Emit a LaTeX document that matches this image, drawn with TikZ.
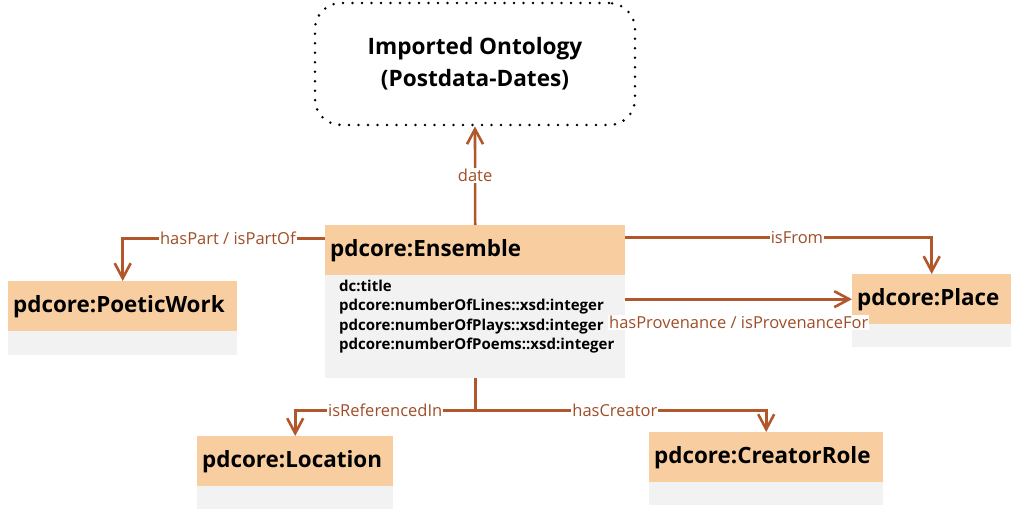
\documentclass[tikz,border=0pt]{standalone}
\usepackage{fontspec}
\setmainfont{Open Sans}
\usetikzlibrary{arrows.meta,positioning}
\definecolor{hdr}{RGB}{248,206,160}
\definecolor{bodyc}{RGB}{242,242,242}
\definecolor{conncol}{RGB}{178,86,44}
\definecolor{lblcol}{RGB}{160,78,40}
\tikzset{
  clshead/.style={fill=hdr, draw=none, anchor=north west, minimum height=50pt,
    inner xsep=5pt, inner ysep=0pt, align=left, font=\bfseries\fontsize{22.4}{26}\selectfont},
  clsbody/.style={fill=bodyc, draw=none, anchor=north west, inner sep=0pt},
  conn/.style={draw=conncol, line width=2.6pt,
    -{Straight Barb[length=15pt,width=16pt,line width=2.6pt]}},
  connplain/.style={draw=conncol, line width=2.6pt},
  lbl/.style={fill=white, text=lblcol, inner xsep=1pt, inner ysep=1pt,
    font=\fontsize{16.5}{19}\selectfont},
  imported/.style={draw=black, line width=2.8pt, line cap=round,
    dash pattern=on 0pt off 9.5pt, rounded corners=26pt, align=center,
    minimum width=320pt, minimum height=122pt,
    font=\bfseries\fontsize{22.6}{32}\selectfont}
}
\begin{document}
\begin{tikzpicture}[x=1pt,y=-1pt]
\useasboundingbox[fill=white] (0,0) rectangle (1013,511);

% imported ontology
\node[imported] (imp) at (475,64) {Imported Ontology\\(Postdata-Dates)};

% Ensemble
\node[clsbody, minimum width=300pt, minimum height=103pt] (ensb) at (325,275) {};
\node[clshead, text width=290pt] (ens) at (325,225) {pdcore:Ensemble};
\node[anchor=north west, inner sep=0pt, align=left,
  font=\bfseries\fontsize{15}{19.3}\selectfont] (ensattr) at (339,280)
  {dc:title\\pdcore:numberOfLines::xsd:integer\\pdcore:numberOfPlays::xsd:integer\\pdcore:numberOfPoems::xsd:integer};

% PoeticWork
\node[clsbody, minimum width=229pt, minimum height=24pt] (pwb) at (8,331) {};
\node[clshead, text width=219pt] (pw) at (8,281) {pdcore:PoeticWork};

% Place
\node[clsbody, minimum width=159pt, minimum height=23pt] (plb) at (852,324) {};
\node[clshead, text width=149pt] (pl) at (852,274) {pdcore:Place};

% Location
\node[clsbody, minimum width=196pt, minimum height=23pt] (locb) at (197,486) {};
\node[clshead, text width=186pt] (loc) at (197,436) {pdcore:Location};

% CreatorRole
\node[clsbody, minimum width=234pt, minimum height=23pt] (crb) at (649,482) {};
\node[clshead, text width=224pt] (cr) at (649,432) {pdcore:CreatorRole};

% connectors
\draw[conn] (ens.north) -- node[lbl] {date} (imp.south);
\draw[conn] ([yshift=12pt]ens.west) -| node[lbl, pos=0.24] {hasPart / isPartOf} (pw.north);
\draw[conn] ([yshift=13pt]ens.east) -| node[lbl, pos=0.28] {isFrom} (pl.north);
\draw[conn] (pl.west -| ensb.east) -- node[lbl, yshift=-23pt] {hasProvenance / isProvenanceFor} (pl.west);
\draw[connplain] (ensb.south) -- ++(0,32) coordinate (j);
\draw[conn] (j) -| node[lbl, pos=0.25] {isReferencedIn} (loc.north);
\draw[conn] (j) -| node[lbl, pos=0.24] {hasCreator} (cr.north);
\end{tikzpicture}
\end{document}
